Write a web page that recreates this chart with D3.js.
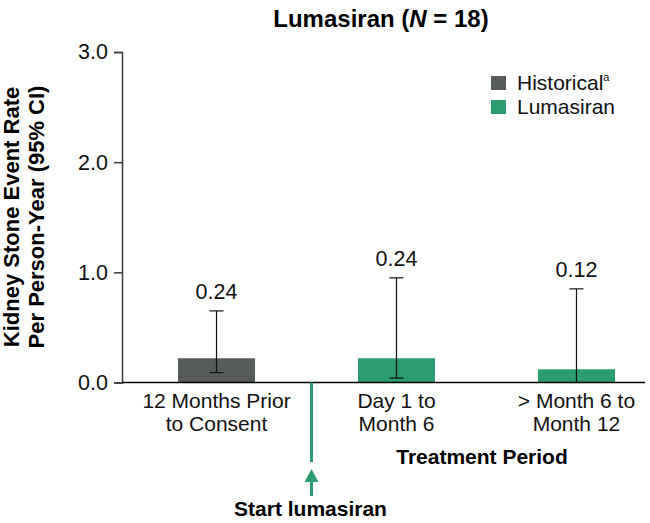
<!DOCTYPE html>
<html>
<head>
<meta charset="utf-8">
<script src="https://cdn.jsdelivr.net/npm/d3@7/dist/d3.min.js"></script>
<style>
  html, body { margin: 0; padding: 0; background: #fff; }
  svg { display: block; font-family: "Liberation Sans", Arial, Helvetica, sans-serif; }
</style>
</head>
<body>
<svg id="chart" width="650" height="523"></svg>
<script>
// ---- data ----
const categories = [["12 Months Prior", "to Consent"], ["Day 1 to", "Month 6"], ["> Month 6 to", "Month 12"]];
const groups = ["Historical", "Lumasiran", "Lumasiran"];
const barValues = [0.22, 0.22, 0.12];
const valueLabels = ["0.24", "0.24", "0.12"];
const ciLower = [0.09, 0.04, 0.0];
const ciUpper = [0.65, 0.95, 0.85];
const yTicks = [0, 1, 2, 3];
const legendItems = ["Historical", "Lumasiran"];
const colors = { Historical: "#575b5b", Lumasiran: "#2b9b70" };

const svg = d3.select("#chart");

const x = d3.scaleBand().domain(d3.range(categories.length))
  .range([178, 615]).paddingInner(0.572).paddingOuter(0);
const y = d3.scaleLinear().domain([0, 3]).range([382.5, 52]);

// title
const title = svg.append("text").attr("x", 381).attr("y", 27)
  .attr("text-anchor", "middle").attr("font-size", 24).attr("font-weight", "bold");
title.append("tspan").text("Lumasiran (");
title.append("tspan").attr("font-style", "italic").text("N");
title.append("tspan").text(" = 18)");

// y axis
const yAxis = d3.axisLeft(y).tickValues(yTicks).tickFormat(d3.format(".1f")).tickSizeOuter(0).tickSize(8).tickPadding(6);
const gy = svg.append("g").attr("transform", "translate(122,0)").call(yAxis);
gy.select(".domain").attr("stroke", "#3a3a3a").attr("stroke-width", 1.5);
gy.selectAll(".tick line").attr("stroke", "#3a3a3a").attr("stroke-width", 1.5);
gy.selectAll(".tick text").attr("font-size", 21.5).attr("fill", "#111").attr("font-family", "Liberation Sans, Arial, sans-serif");

// y title
const yt = svg.append("text").attr("transform", "translate(0,217) rotate(-90)")
  .attr("text-anchor", "middle").attr("font-size", 22).attr("font-weight", "bold");
yt.append("tspan").attr("x", 0).attr("y", 19).text("Kidney Stone Event Rate");
yt.append("tspan").attr("x", 0).attr("y", 44).text("Per Person-Year (95% CI)");

// bars
svg.append("g").selectAll("rect").data(barValues).join("rect")
  .attr("x", (d, i) => x(i)).attr("width", x.bandwidth())
  .attr("y", d => y(d)).attr("height", d => y(0) - y(d))
  .attr("fill", (d, i) => colors[groups[i]]);

// x baseline
svg.append("line").attr("x1", 122).attr("x2", 645).attr("y1", y(0)).attr("y2", y(0))
  .attr("stroke", "#000").attr("stroke-width", 1.5);

// error bars
const eb = svg.append("g").attr("stroke", "#111").attr("stroke-width", 1.2);
barValues.forEach((v, i) => {
  const cx = x(i) + x.bandwidth() / 2;
  eb.append("line").attr("x1", cx).attr("x2", cx).attr("y1", y(ciLower[i])).attr("y2", y(ciUpper[i]));
  eb.append("line").attr("x1", cx - 7).attr("x2", cx + 7).attr("y1", y(ciUpper[i])).attr("y2", y(ciUpper[i]));
  eb.append("line").attr("x1", cx - 7).attr("x2", cx + 7).attr("y1", y(ciLower[i])).attr("y2", y(ciLower[i]));
});

// value labels
svg.append("g").selectAll("text").data(valueLabels).join("text")
  .attr("x", (d, i) => x(i) + x.bandwidth() / 2).attr("y", (d, i) => y(ciUpper[i]) - 12)
  .attr("text-anchor", "middle").attr("font-size", 21.5).attr("fill", "#111").text(d => d);

// category labels
const cl = svg.append("g");
categories.forEach((lines, i) => {
  const t = cl.append("text").attr("text-anchor", "middle").attr("font-size", 21).attr("fill", "#111");
  lines.forEach((ln, j) => t.append("tspan").attr("x", x(i) + x.bandwidth() / 2).attr("y", 408 + j * 23).text(ln));
});

// x title
svg.append("text").attr("x", 482).attr("y", 464).attr("text-anchor", "middle")
  .attr("font-size", 21).attr("font-weight", "bold").text("Treatment Period");

// start arrow
const ax = 311.5;
svg.append("line").attr("x1", ax).attr("x2", ax).attr("y1", y(0)).attr("y2", 462)
  .attr("stroke", colors.Lumasiran).attr("stroke-width", 3);
svg.append("path").attr("d", `M${ax},469 L${ax + 7},482 L${ax - 7},482 Z`).attr("fill", colors.Lumasiran);
svg.append("line").attr("x1", ax).attr("x2", ax).attr("y1", 481).attr("y2", 496)
  .attr("stroke", colors.Lumasiran).attr("stroke-width", 3);
svg.append("text").attr("x", ax - 1).attr("y", 516).attr("text-anchor", "middle")
  .attr("font-size", 21).attr("font-weight", "bold").text("Start lumasiran");

// legend
const lg = svg.append("g");
legendItems.forEach((name, i) => {
  lg.append("rect").attr("x", 491).attr("y", 76 + i * 24).attr("width", 15).attr("height", 14).attr("fill", colors[name]);
  const t = lg.append("text").attr("x", 517).attr("y", 90 + i * 24).attr("font-size", 21).attr("fill", "#111");
  t.append("tspan").text(name);
  if (i === 0) t.append("tspan").attr("font-size", 11).attr("dy", -9).text("a");
});
</script>
</body>
</html>
